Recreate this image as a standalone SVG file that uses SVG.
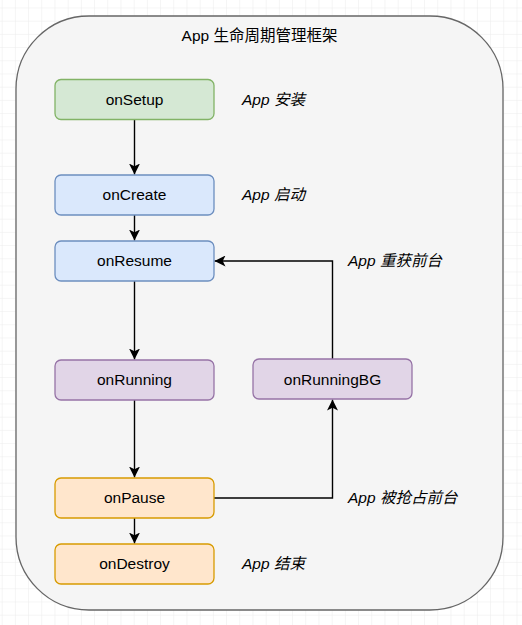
<svg xmlns="http://www.w3.org/2000/svg" width="522" height="625" viewBox="0 0 522 625">
<style>
.node{stroke-width:1.3}
.lbl{font-family:"Liberation Sans",Arial,"Noto Sans CJK SC",sans-serif;font-size:15.5px;fill:#000;text-anchor:middle}
.note{font-family:"Liberation Sans",Arial,"Noto Sans CJK SC",sans-serif;font-size:15.5px;font-style:italic;fill:#000}
.conn{fill:none;stroke:#000;stroke-width:1.4}
</style>
<defs>
<pattern id="grid" width="13.2" height="13.2" patternUnits="userSpaceOnUse" x="1.7" y="7.5">
<path d="M0 0H13.2M0 0V13.2" fill="none" stroke="#ebebeb" stroke-width="1"/>
</pattern>
<marker id="arr" viewBox="0 0 10 10" refX="10" refY="5" markerWidth="11" markerHeight="11" markerUnits="userSpaceOnUse" orient="auto">
<path d="M0 0L10 5L0 10L2.5 5Z" fill="#000"/>
</marker>
</defs>
<rect width="522" height="625" fill="#fff"/>
<rect width="522" height="625" fill="url(#grid)"/>
<g id="frame">
<rect x="16" y="16" width="487" height="594" rx="73" ry="73" fill="#f5f5f5" stroke="#666666" stroke-width="1.3"/>
<text class="lbl" x="259.5" y="41">App 生命周期管理框架</text>
</g>
<g id="connectors">
<path class="conn" d="M134.5 119V174.5" marker-end="url(#arr)"/>
<path class="conn" d="M134.5 215V240.5" marker-end="url(#arr)"/>
<path class="conn" d="M134.5 281V359.5" marker-end="url(#arr)"/>
<path class="conn" d="M134.5 400V477.5" marker-end="url(#arr)"/>
<path class="conn" d="M134.5 518V543.5" marker-end="url(#arr)"/>
<path class="conn" d="M332.5 359V261H214.5" marker-end="url(#arr)"/>
<path class="conn" d="M214 498H332.5V399.5" marker-end="url(#arr)"/>
</g>
<g id="onSetup">
<rect class="node" x="55" y="79.5" width="159" height="40" rx="6" fill="#d5e8d4" stroke="#82b366"/>
<text class="lbl" x="134.5" y="105">onSetup</text>
</g>
<g id="onCreate">
<rect class="node" x="55" y="175" width="159" height="40" rx="6" fill="#dae8fc" stroke="#6c8ebf"/>
<text class="lbl" x="134.5" y="200">onCreate</text>
</g>
<g id="onResume">
<rect class="node" x="55" y="241" width="159" height="40" rx="6" fill="#dae8fc" stroke="#6c8ebf"/>
<text class="lbl" x="134.5" y="266">onResume</text>
</g>
<g id="onRunning">
<rect class="node" x="55" y="360" width="159" height="40" rx="6" fill="#e1d5e7" stroke="#9673a6"/>
<text class="lbl" x="134.5" y="385">onRunning</text>
</g>
<g id="onRunningBG">
<rect class="node" x="253" y="359" width="159" height="40" rx="6" fill="#e1d5e7" stroke="#9673a6"/>
<text class="lbl" x="332.5" y="384.5">onRunningBG</text>
</g>
<g id="onPause">
<rect class="node" x="55" y="478" width="159" height="40" rx="6" fill="#ffe6cc" stroke="#d79b00"/>
<text class="lbl" x="134.5" y="503">onPause</text>
</g>
<g id="onDestroy">
<rect class="node" x="55" y="544" width="159" height="40" rx="6" fill="#ffe6cc" stroke="#d79b00"/>
<text class="lbl" x="134.5" y="569">onDestroy</text>
</g>
<g id="notes">
<text class="note" x="242" y="105">App 安装</text>
<text class="note" x="242" y="200">App 启动</text>
<text class="note" x="348" y="266">App 重获前台</text>
<text class="note" x="348" y="503">App 被抢占前台</text>
<text class="note" x="242" y="569">App 结束</text>
</g>
</svg>
